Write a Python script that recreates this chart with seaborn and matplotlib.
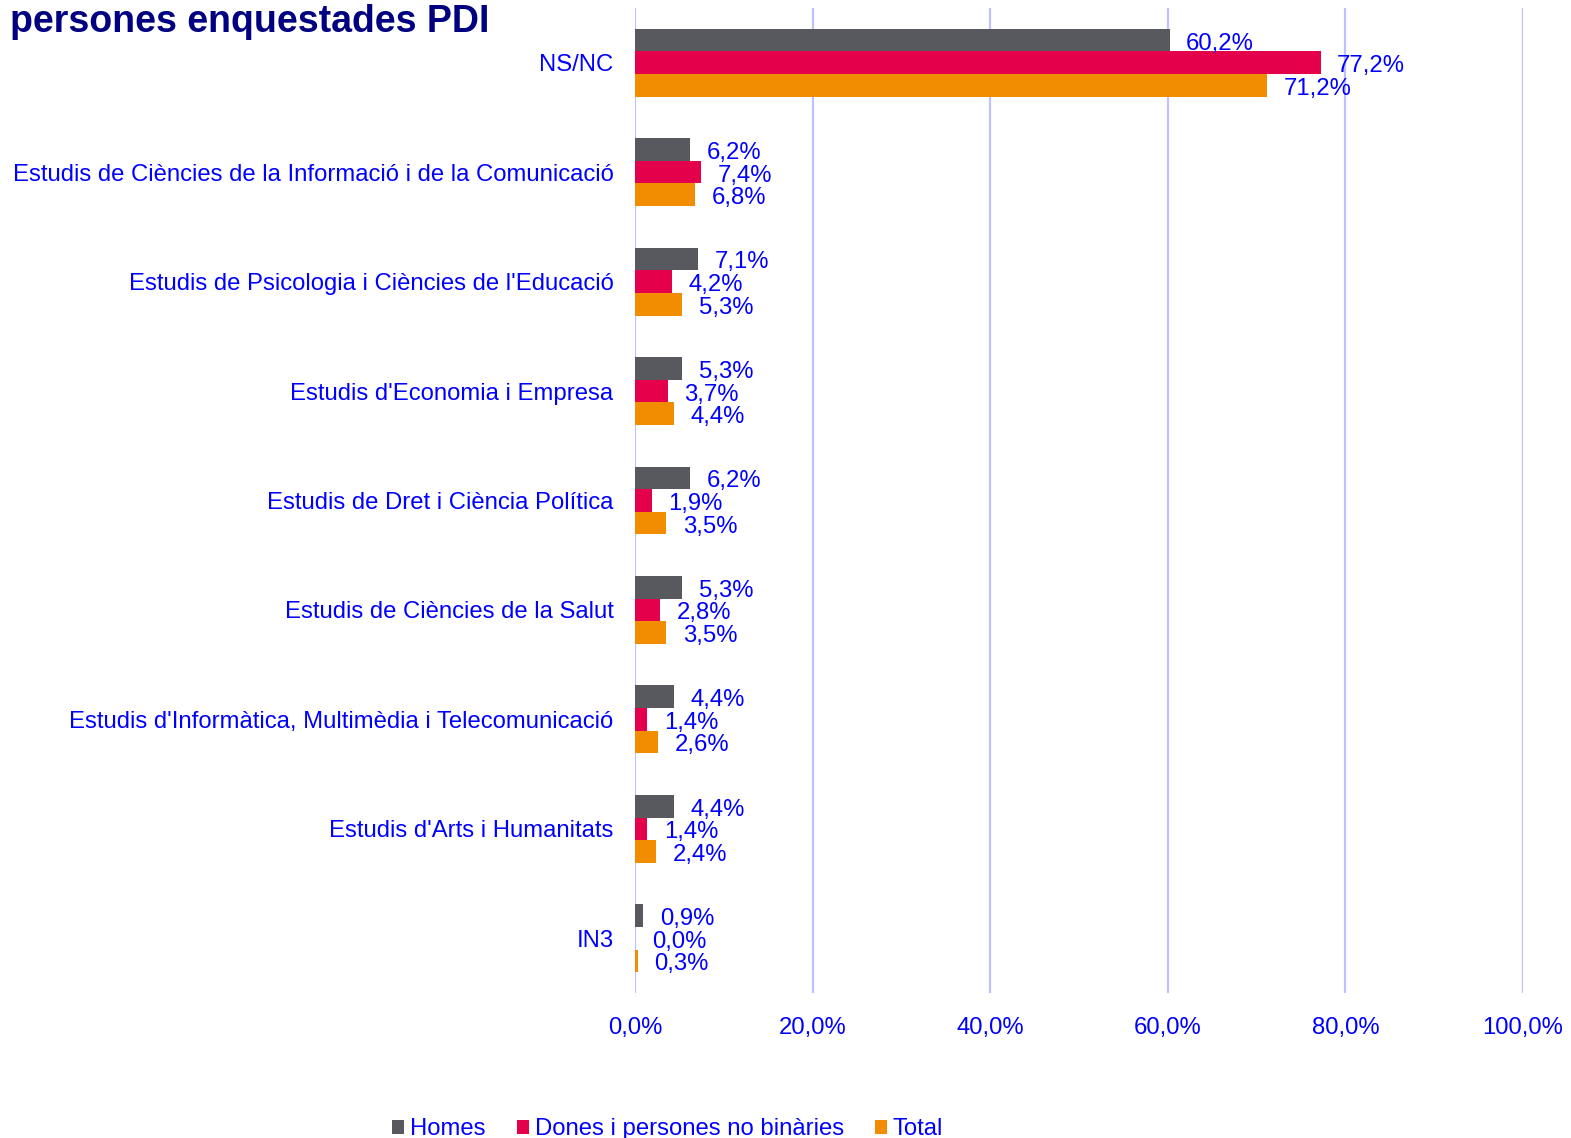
import matplotlib
matplotlib.use("Agg")
import matplotlib.pyplot as plt
import seaborn as sns
import pandas as pd
from matplotlib.patches import Patch

categories = [
    "NS/NC",
    "Estudis de Ciències de la Informació i de la Comunicació",
    "Estudis de Psicologia i Ciències de l'Educació",
    "Estudis d'Economia i Empresa",
    "Estudis de Dret i Ciència Política",
    "Estudis de Ciències de la Salut",
    "Estudis d'Informàtica, Multimèdia i Telecomunicació",
    "Estudis d'Arts i Humanitats",
    "IN3",
]
series_names = ["Homes", "Dones i persones no binàries", "Total"]
homes = [60.2, 6.2, 7.1, 5.3, 6.2, 5.3, 4.4, 4.4, 0.9]
dones = [77.2, 7.4, 4.2, 3.7, 1.9, 2.8, 1.4, 1.4, 0.0]
total = [71.2, 6.8, 5.3, 4.4, 3.5, 3.5, 2.6, 2.4, 0.3]
xticks = [0, 20, 40, 60, 80, 100]
title = "persones enquestades PDI"

colors = ["#58585F", "#E4004B", "#F28C00"]
text_blue = "#0000FF"
grid_col = "#C0C0FF"
fs = 17.2

sns.set_theme(style="white")
plt.rcParams["font.family"] = ["Liberation Sans", "DejaVu Sans"]

rows = []
for name, vals in zip(series_names, [homes, dones, total]):
    for c, v in zip(categories, vals):
        rows.append({"cat": c, "serie": name, "val": v})
df = pd.DataFrame(rows)

fig = plt.figure(figsize=(15.71, 11.38), dpi=100)
ax = fig.add_axes([635 / 1571, 1 - 993 / 1138, (1523 - 635) / 1571, (993 - 8) / 1138])

sns.barplot(data=df, y="cat", x="val", hue="serie", order=categories,
            hue_order=series_names, palette=colors, orient="h", width=0.62,
            saturation=1, ax=ax, legend=False, errorbar=None, linewidth=0)

for cont, vals in zip(ax.containers, [homes, dones, total]):
    labels = [f"{v:.1f}%".replace(".", ",") for v in vals]
    anns = ax.bar_label(cont, labels=labels, padding=11.5, color=text_blue, fontsize=fs)
    for a in anns:
        a.xyann = (12, -2.5)

ax.set_xlim(0, 100)
ax.set_ylim(len(categories) - 0.5, -0.5)
ax.set_xticks(xticks)
ax.set_xticklabels([f"{t:.1f}%".replace(".", ",") for t in xticks], color=text_blue, fontsize=fs)
ax.tick_params(axis="x", pad=17.5, length=0)
ax.tick_params(axis="y", pad=15.5, length=0, labelcolor=text_blue, labelsize=fs)
ax.set_xlabel("")
ax.set_ylabel("")
for s in ax.spines.values():
    s.set_visible(False)
ax.grid(False)
for t in xticks:
    ax.axvline(t, color=grid_col, lw=1.6, zorder=0)
ax.set_axisbelow(True)

fig.text(10 / 1571, 1 - 4 / 1138, title, ha="left", va="top", fontsize=27,
         fontweight="bold", color="#000080")

handles = [Patch(facecolor=c, edgecolor="none") for c in colors]
leg = fig.legend(handles, series_names, loc="lower center", ncol=3, frameon=False,
                 bbox_to_anchor=(0.425, -0.021), fontsize=fs, handlelength=0.5,
                 handleheight=0.5, handletextpad=0.25, columnspacing=1.3)
for t in leg.get_texts():
    t.set_color(text_blue)

fig.savefig("out.png", dpi=100)
